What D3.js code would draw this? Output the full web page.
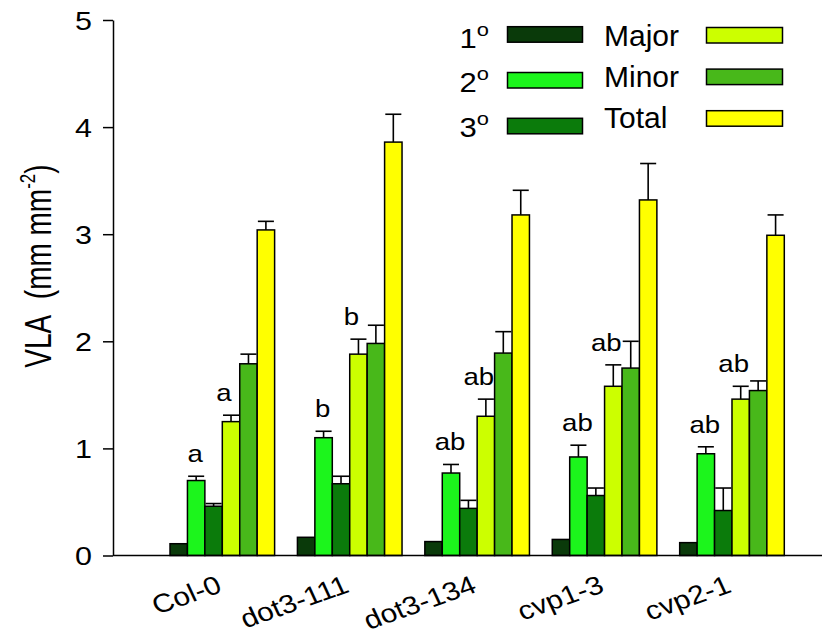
<!DOCTYPE html>
<html>
<head>
<meta charset="utf-8">
<script src="https://cdn.jsdelivr.net/npm/d3@7"></script>
<style>
  body { margin: 0; background: #fff; }
  text { font-family: "Liberation Sans", Arial, sans-serif; fill: #000; }
</style>
</head>
<body>
<svg id="chart" width="824" height="638"></svg>
<script>
// genotypes and vein orders
const groups = ["Col-0", "dot3-111", "dot3-134", "cvp1-3", "cvp2-1"];
const series = ["1", "2", "3", "Major", "Minor", "Total"];

// vein length per area (mm mm-2)
const primary   = [0.11, 0.17, 0.13, 0.15, 0.12];
const secondary = [0.70, 1.10, 0.77, 0.92, 0.95];
const tertiary  = [0.46, 0.67, 0.44, 0.56, 0.42];
const major     = [1.25, 1.88, 1.30, 1.58, 1.46];
const minor     = [1.79, 1.98, 1.89, 1.75, 1.54];
const total     = [3.04, 3.86, 3.18, 3.32, 2.99];

// standard errors (upper whiskers only)
const primaryErr   = [0, 0, 0, 0, 0];
const secondaryErr = [0.04, 0.06, 0.08, 0.11, 0.065];
const tertiaryErr  = [0.025, 0.07, 0.075, 0.07, 0.21];
const majorErr     = [0.06, 0.14, 0.16, 0.20, 0.12];
const minorErr     = [0.09, 0.17, 0.20, 0.25, 0.09];
const totalErr     = [0.08, 0.26, 0.23, 0.34, 0.19];

// significance letters
const lettersSecondary = ["a", "b", "ab", "ab", "ab"];
const lettersMajor     = ["a", "b", "ab", "ab", "ab"];

const yTicks = [0, 1, 2, 3, 4, 5];

const values = [primary, secondary, tertiary, major, minor, total];
const errors = [primaryErr, secondaryErr, tertiaryErr, majorErr, minorErr, totalErr];
const colors = ["#0a3a0a", "#1cf51c", "#0b7b0b", "#ccff00", "#48b81a", "#ffff00"];

const svg = d3.select("#chart");
const axisX = 113, baseY = 555.5, topY = 20, rightX = 822;

const y = d3.scaleLinear().domain([0, 5]).range([baseY, topY]);

const x0 = d3.scaleBand()
  .domain(groups)
  .range([158.6, 795.7])
  .paddingInner(0.179)
  .paddingOuter(0.0895);

const x1 = d3.scaleBand()
  .domain(series)
  .range([0, x0.bandwidth()]);

const rows = [];
groups.forEach((g, gi) => {
  series.forEach((s, si) => {
    rows.push({ g, s, si, v: values[si][gi], e: errors[si][gi] });
  });
});

// error bars drawn first so bars sit on top
const eb = svg.append("g").attr("stroke", "#000").attr("stroke-width", 1.6);
rows.filter(d => d.e > 0).forEach(d => {
  const cx = x0(d.g) + x1(d.s) + x1.bandwidth() / 2;
  const half = x1.bandwidth() * 0.46;
  eb.append("line")
    .attr("x1", cx).attr("x2", cx)
    .attr("y1", y(d.v)).attr("y2", y(d.v + d.e));
  eb.append("line")
    .attr("x1", cx - half).attr("x2", cx + half)
    .attr("y1", y(d.v + d.e)).attr("y2", y(d.v + d.e));
});

svg.append("g")
  .selectAll("rect")
  .data(rows)
  .join("rect")
  .attr("x", d => x0(d.g) + x1(d.s))
  .attr("y", d => y(d.v))
  .attr("width", x1.bandwidth())
  .attr("height", d => y(0) - y(d.v))
  .attr("fill", d => colors[d.si])
  .attr("stroke", "#000")
  .attr("stroke-width", 1.5);

// letters above 2° and Major bars
function addLetters(labels, si, dx) {
  svg.append("g")
    .selectAll("text")
    .data(groups)
    .join("text")
    .attr("text-anchor", "middle")
    .attr("font-size", 24)
    .attr("transform", (g, i) => {
      const cx = x0(g) + x1(series[si]) + x1.bandwidth() / 2 + dx;
      const ty = y(values[si][i] + errors[si][i]) - 14;
      return `translate(${cx},${ty}) scale(1.15,1)`;
    })
    .text((g, i) => labels[i]);
}
addLetters(lettersSecondary, 1, -1);
addLetters(lettersMajor, 3, -7);

// y axis
const yAxis = svg.append("g")
  .attr("transform", `translate(${axisX},0)`)
  .call(d3.axisLeft(y).tickValues(yTicks).tickFormat(d3.format("d"))
    .tickSize(10).tickPadding(10).tickSizeOuter(0));
yAxis.select(".domain").attr("stroke", "#000").attr("stroke-width", 1.5);
yAxis.selectAll(".tick line").attr("stroke", "#000").attr("stroke-width", 1.5);
yAxis.selectAll(".tick text")
  .attr("font-family", "Liberation Sans, Arial, sans-serif")
  .attr("font-size", 25)
  .attr("fill", "#000")
  .attr("x", 0)
  .attr("dy", "0.36em")
  .attr("transform", "translate(-21,0) scale(1.22,1)");

// x axis line (no ticks)
svg.append("line")
  .attr("x1", axisX).attr("x2", rightX)
  .attr("y1", baseY).attr("y2", baseY)
  .attr("stroke", "#000").attr("stroke-width", 1.5);

// group labels, slanted
svg.append("g")
  .selectAll("text")
  .data(groups)
  .join("text")
  .attr("text-anchor", "end")
  .attr("font-size", 26)
  .attr("transform", g => `translate(${x0(g) + x0.bandwidth() / 2 + 1},${baseY + 36}) scale(1.15,1) rotate(-22)`)
  .text(g => g);

// y title
const title = svg.append("text")
  .attr("text-anchor", "middle")
  .attr("font-size", 28)
  .attr("transform", "translate(51,266) scale(1.35,1) rotate(-90)");
title.append("tspan").text("VLA\u00a0\u00a0(mm mm");
title.append("tspan").attr("font-size", 17).attr("dy", -12).text("-2");
title.append("tspan").attr("dy", 12).text(")");

// legend
const legLeft = series.slice(0, 3);
const legRight = series.slice(3);
const leg = svg.append("g");

legLeft.forEach((s, i) => {
  const t = leg.append("text")
    .attr("text-anchor", "end")
    .attr("font-size", 27)
    .attr("transform", `translate(489,${47.5 + i * 44.5}) scale(1.15,1)`);
  t.append("tspan").text(s);
  t.append("tspan").attr("font-size", 19).attr("dy", -12).text("o");
  leg.append("rect")
    .attr("x", 507.5).attr("y", 26.7 + i * 45.8)
    .attr("width", 75).attr("height", 15.5)
    .attr("fill", colors[i]).attr("stroke", "#000").attr("stroke-width", 1.5);
});

legRight.forEach((s, i) => {
  leg.append("text")
    .attr("x", 604)
    .attr("y", 45.5 + i * 41.3)
    .attr("font-size", 30)
    .text(s);
  leg.append("rect")
    .attr("x", 706.5).attr("y", 27.5 + i * 41.6)
    .attr("width", 76).attr("height", 15.5)
    .attr("fill", colors[i + 3]).attr("stroke", "#000").attr("stroke-width", 1.5);
});
</script>
</body>
</html>
